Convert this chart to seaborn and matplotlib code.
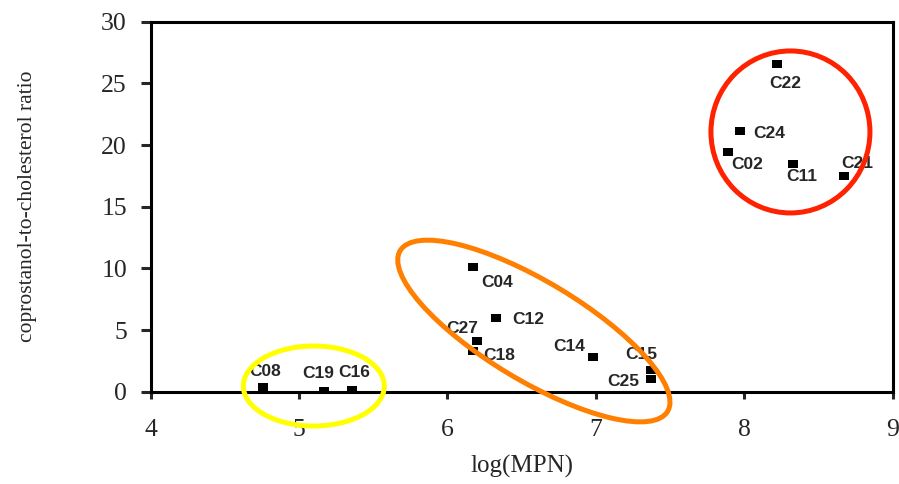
import numpy as np
import pandas as pd
import matplotlib
matplotlib.use("Agg")
import matplotlib.pyplot as plt
from matplotlib.patches import Ellipse
from matplotlib.transforms import ScaledTranslation
import seaborn as sns

# sample sites
sites = ["C08", "C19", "C16", "C04", "C12", "C27", "C18", "C14", "C15", "C25",
         "C22", "C24", "C02", "C11", "C21"]
log_mpn = [4.76, 5.17, 5.36, 6.17, 6.33, 6.20, 6.17, 6.98, 7.37, 7.37,
           8.22, 7.97, 7.89, 8.33, 8.67]
ratio = [0.4, 0.05, 0.14, 10.1, 6.0, 4.1, 3.3, 2.85, 1.75, 1.0,
         26.6, 21.1, 19.4, 18.5, 17.45]
# label offsets (points)
lab_dx = [1, -4, 1.5, 18, 23, -11, 19, -17, -6.5, -20, 6, 21, 14, 6.5, 9.5]
lab_dy = [11, 13, 12.5, -11, -1.5, 9, -3.6, 7, 11.5, -1.5, -14, -1.5, -8.5, -9.5, 9]

# groups circled on the chart: centre (data), width/height (inch), angle
grp_x = [5.10, 6.583, 8.312]
grp_y = [0.46, 4.92, 21.06]
grp_w = [1.41, 3.12, 1.59]
grp_h = [0.80, 0.99, 1.62]
grp_ang = [0, -31, 0]
grp_col = ["#ffff00", "#ff7f00", "#ff2200"]

df = pd.DataFrame({"site": sites, "logMPN": log_mpn, "ratio": ratio})

sns.set_style("ticks")
plt.rcParams["font.family"] = ["Liberation Serif", "DejaVu Serif"]

fig = plt.figure(figsize=(8.99, 4.84), dpi=100)
ax = fig.add_axes([0.1675, 0.1907, 0.8253, 0.7645])

# slightly flat square markers like the original
box = [(-1, -0.75), (1, -0.75), (1, 0.75), (-1, 0.75), (-1, -0.75)]
sns.scatterplot(data=df, x="logMPN", y="ratio", marker=box, color="black",
                s=48, edgecolor="black", linewidth=0, ax=ax, zorder=3)

for i in range(len(sites)):
    ax.annotate(sites[i], (log_mpn[i], ratio[i]), xytext=(lab_dx[i], lab_dy[i]),
                textcoords="offset points", ha="center", va="center",
                fontsize=12.5, fontweight="bold", family=["Liberation Sans", "DejaVu Sans"],
                zorder=4)

for i in range(len(grp_x)):
    tr = fig.dpi_scale_trans + ScaledTranslation(grp_x[i], grp_y[i], ax.transData)
    e = Ellipse((0, 0), grp_w[i], grp_h[i], angle=grp_ang[i], transform=tr,
                fill=False, edgecolor=grp_col[i], linewidth=3.6, zorder=5, clip_on=False)
    ax.add_patch(e)

ax.set_xlim(4, 9)
ax.set_ylim(0, 30)
ax.set_xticks([4, 5, 6, 7, 8, 9])
ax.set_yticks([0, 5, 10, 15, 20, 25, 30])

for sp in ax.spines.values():
    sp.set_linewidth(2.2)
    sp.set_color("black")
ax.tick_params(axis="x", direction="out", length=5, width=2.2, pad=15, labelsize=18.5)
ax.tick_params(axis="y", direction="out", length=7, width=2.2, pad=10, labelsize=18.5)

ax.set_xlabel("log(MPN)", fontsize=18)
ax.set_ylabel("coprostanol-to-cholesterol ratio", fontsize=15.5)
ax.xaxis.set_label_coords(0.5, -0.17)
ax.yaxis.set_label_coords(-0.153, 0.5)

fig.savefig("out.png", dpi=100)
